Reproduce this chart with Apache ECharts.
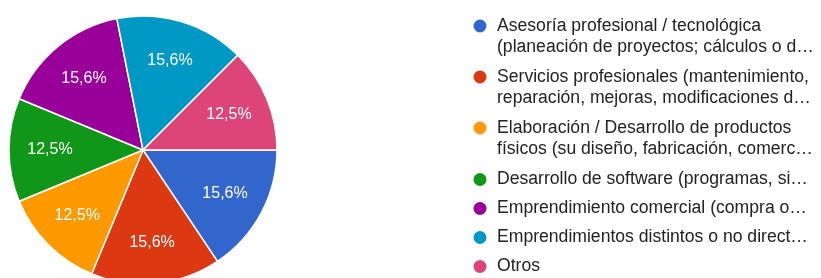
<!DOCTYPE html>
<html>

<head>
  <meta charset="utf-8">
  <title>Tipo de emprendimiento</title>
  <script src="https://cdn.jsdelivr.net/npm/echarts@6/dist/echarts.min.js"></script>
  <style>
    html, body {
      margin: 0;
      padding: 0;
      background: #fff;
    }

    #chart {
      width: 821px;
      height: 278px;
    }
  </style>
</head>

<body>
  <div id="chart"></div>
  <script>
    // categorías (tal como aparecen en la leyenda, ya recortadas)
    var categories = [
      'Asesoría profesional / tecnológica\n(planeación de proyectos; cálculos o d…',
      'Servicios profesionales (mantenimiento,\nreparación, mejoras, modificaciones d…',
      'Elaboración / Desarrollo de productos\nfísicos (su diseño, fabricación, comerc…',
      'Desarrollo de software (programas, si…',
      'Emprendimiento comercial (compra o…',
      'Emprendimientos distintos o no direct…',
      'Otros'
    ];
    // respuestas por categoría (32 en total)
    var counts = [5, 5, 4, 4, 5, 5, 4];
    var colors = ['#3366cc', '#dc3912', '#ff9900', '#109618', '#990099', '#0099c6', '#dd4477'];

    var total = counts.reduce(function (a, b) { return a + b; }, 0);
    var pieData = categories.map(function (c, i) {
      return { name: c, value: counts[i] };
    });
    var twoLine = categories.filter(function (c) { return c.indexOf('\n') >= 0; });
    var oneLine = categories.filter(function (c) { return c.indexOf('\n') < 0; });

    var legendText = {
      fontFamily: 'Liberation Sans, Arial',
      fontSize: 17.6,
      lineHeight: 21,
      color: '#222'
    };
    function legendBlock(top, gap, names) {
      return {
        orient: 'vertical',
        left: 471.5,
        top: top,
        height: 400,
        padding: 0,
        itemGap: gap,
        itemWidth: 24,
        itemHeight: 15,
        icon: 'circle',
        selectedMode: false,
        // línea vacía arriba: el punto queda a la altura de la primera línea
        formatter: function (name) {
          return name.indexOf('\n') >= 0 ? '\n' + name : name;
        },
        textStyle: legendText,
        data: names
      };
    }

    var chart = echarts.init(document.getElementById('chart'));
    var option = {
      color: colors,
      animation: false,
      legend: [
        legendBlock(-5.5, -12, twoLine),
        legendBlock(169, 8, oneLine)
      ],
      series: [{
        type: 'pie',
        center: [143, 150],
        radius: [0, 134],
        startAngle: 0,
        clockwise: true,
        silent: true,
        label: { show: false },
        labelLine: { show: false },
        itemStyle: {
          borderColor: '#fff',
          borderWidth: 1.5
        },
        data: pieData
      }, {
        // capa transparente sólo para colocar las etiquetas a ~2/3 del radio
        type: 'pie',
        center: [143, 150],
        radius: [46, 134],
        startAngle: 0,
        clockwise: true,
        silent: true,
        legendHoverLink: false,
        itemStyle: { color: 'rgba(0,0,0,0)', borderWidth: 0 },
        label: {
          show: true,
          position: 'inside',
          color: '#fff',
          fontFamily: 'Liberation Sans, Arial',
          fontSize: 16,
          formatter: function (p) {
            return (p.value / total * 100).toFixed(1).replace('.', ',') + '%';
          }
        },
        labelLine: { show: false },
        data: pieData
      }]
    };
    chart.setOption(option);
  </script>
</body>

</html>
